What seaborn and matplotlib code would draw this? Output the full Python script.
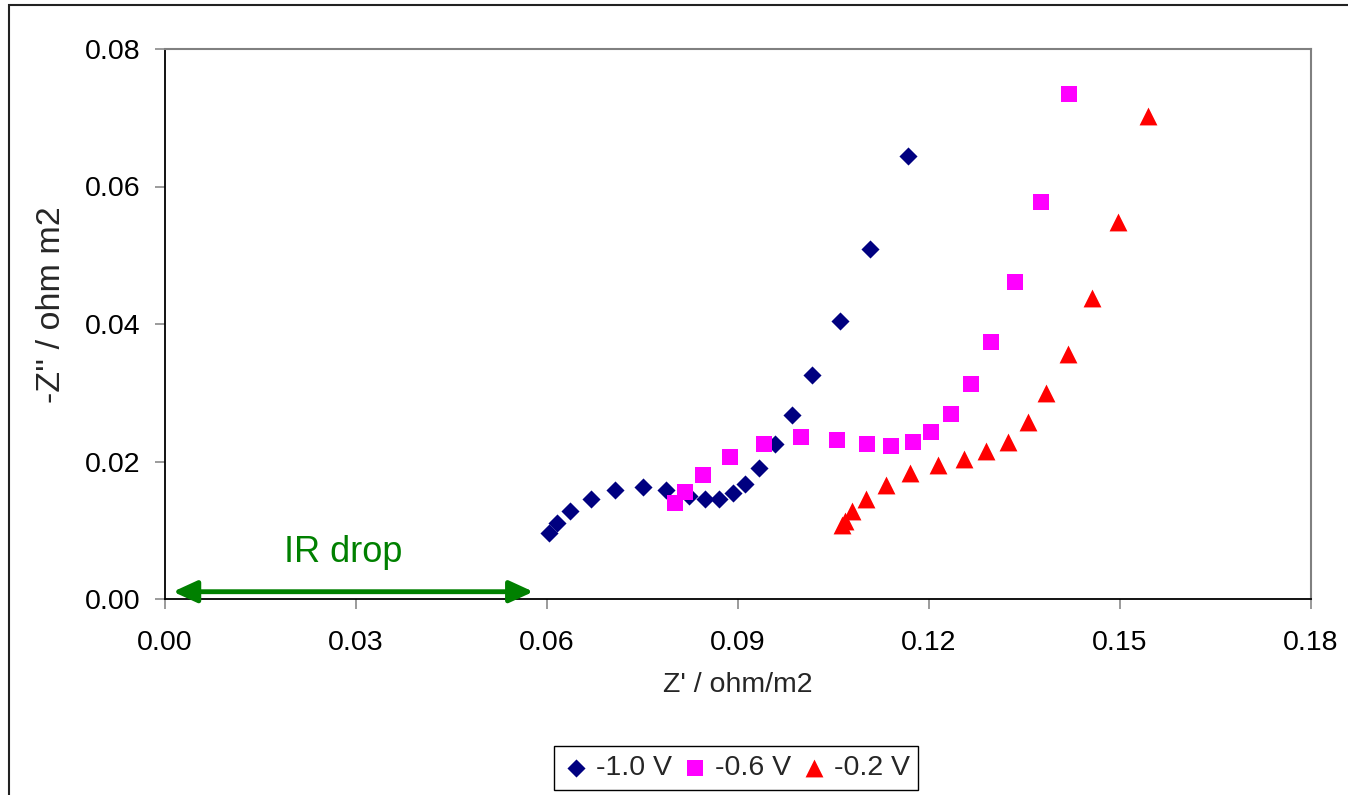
import numpy as np
import pandas as pd
import matplotlib
matplotlib.use("Agg")
import matplotlib.pyplot as plt
import seaborn as sns
from matplotlib.patches import Rectangle

# ---- data ----
x_m10 = [0.0603, 0.0616, 0.0637, 0.0669, 0.0707, 0.0751, 0.0788, 0.0824, 0.0848,
         0.0870, 0.0892, 0.0911, 0.0933, 0.0959, 0.0986, 0.1017, 0.1061, 0.1108, 0.1168]
y_m10 = [0.0096, 0.0111, 0.0128, 0.0146, 0.0158, 0.0163, 0.0158, 0.0150, 0.0146,
         0.0146, 0.0154, 0.0167, 0.0190, 0.0225, 0.0268, 0.0326, 0.0404, 0.0509, 0.0645]

x_m06 = [0.0802, 0.0818, 0.0846, 0.0888, 0.0941, 0.1000, 0.1056, 0.1103, 0.1141,
         0.1176, 0.1204, 0.1235, 0.1267, 0.1298, 0.1336, 0.1376, 0.1420]
y_m06 = [0.0139, 0.0156, 0.0180, 0.0206, 0.0226, 0.0235, 0.0231, 0.0225, 0.0223,
         0.0228, 0.0243, 0.0269, 0.0313, 0.0374, 0.0461, 0.0577, 0.0734]

x_m02 = [0.1064, 0.1068, 0.1080, 0.1102, 0.1133, 0.1171, 0.1215, 0.1256, 0.1290,
         0.1325, 0.1356, 0.1384, 0.1419, 0.1456, 0.1497, 0.1544]
y_m02 = [0.0107, 0.0113, 0.0128, 0.0145, 0.0166, 0.0183, 0.0195, 0.0203, 0.0215,
         0.0229, 0.0258, 0.0299, 0.0357, 0.0438, 0.0548, 0.0702]

series_labels = ["-1.0 V", "-0.6 V", "-0.2 V"]
x_ticks = [0.00, 0.03, 0.06, 0.09, 0.12, 0.15, 0.18]
y_ticks = [0.00, 0.02, 0.04, 0.06, 0.08]

sns.set_theme(style="white")
plt.rcParams['font.family'] = ['Liberation Sans', 'DejaVu Sans']

fig = plt.figure(figsize=(13.48, 7.95), dpi=100)
ax = fig.add_axes([164.7/1348, 1-599/795, (1310.7-164.7)/1348, (599-49)/795])

styles = [
    (x_m10, y_m10, "#000080", "D", 85),
    (x_m06, y_m06, "#FF00FF", "s", 128),
    (x_m02, y_m02, "#FF0000", "^", 165),
]
for (xs, ys, col, mk, s), lab in zip(styles, series_labels):
    df = pd.DataFrame({"x": xs, "y": ys})
    sns.scatterplot(data=df, x="x", y="y", ax=ax, color=col, marker=mk, s=s,
                    linewidth=0, label=lab, legend=False, zorder=3)

ax.set_xlim(0, 0.18)
ax.set_ylim(0, 0.08)
ax.set_xticks(x_ticks)
ax.set_yticks(y_ticks)
ax.set_xticklabels([f"{v:.2f}" for v in x_ticks])
ax.set_yticklabels([f"{v:.2f}" for v in y_ticks])
ax.tick_params(axis="both", direction="out", length=7, width=1.1, color="#808080",
               labelsize=20.5, labelcolor="black")
ax.tick_params(axis="y", pad=10.5)
ax.tick_params(axis="x", pad=15)
ax.xaxis.set_ticks_position("bottom")
ax.yaxis.set_ticks_position("left")

for side in ["left", "bottom"]:
    ax.spines[side].set_color("black")
    ax.spines[side].set_linewidth(1.3)
for side in ["top", "right"]:
    ax.spines[side].set_color("#808080")
    ax.spines[side].set_linewidth(1.5)
    ax.spines[side].set_visible(True)

ax.set_xlabel("Z' / ohm/m2", fontsize=20.5, labelpad=12)
ax.set_ylabel("-Z'' / ohm m2", fontsize=24.5)
ax.yaxis.set_label_coords(-0.0853, 0.5345)

# IR drop annotation
ax.annotate("", xy=(0.0013, 0.00106), xytext=(0.0579, 0.00106),
            arrowprops=dict(arrowstyle="<|-|>,head_length=1.2,head_width=0.55",
                            color="#008000", lw=3.5, shrinkA=0, shrinkB=0),
            zorder=4)
ax.text(0.028, 0.0054, "IR drop", color="#008000", fontsize=26,
        ha="center", va="baseline")

handles, labels = ax.get_legend_handles_labels()
leg = fig.legend(handles, labels, loc="center", bbox_to_anchor=(736/1348, 1-768/795),
                 ncol=3, fontsize=20.5, frameon=True, fancybox=False,
                 edgecolor="black", handlelength=1.0, handletextpad=0.2,
                 columnspacing=0.3, borderpad=0.3, framealpha=1)
leg.get_frame().set_linewidth(1.0)

# outer chart border
fig.patches.append(Rectangle((9/1348, -0.2), 1.5, 0.2 + (1 - 5/795), transform=fig.transFigure,
                             fill=False, edgecolor="#222222", linewidth=1.5))

fig.savefig("out.png", dpi=100, facecolor="white")
